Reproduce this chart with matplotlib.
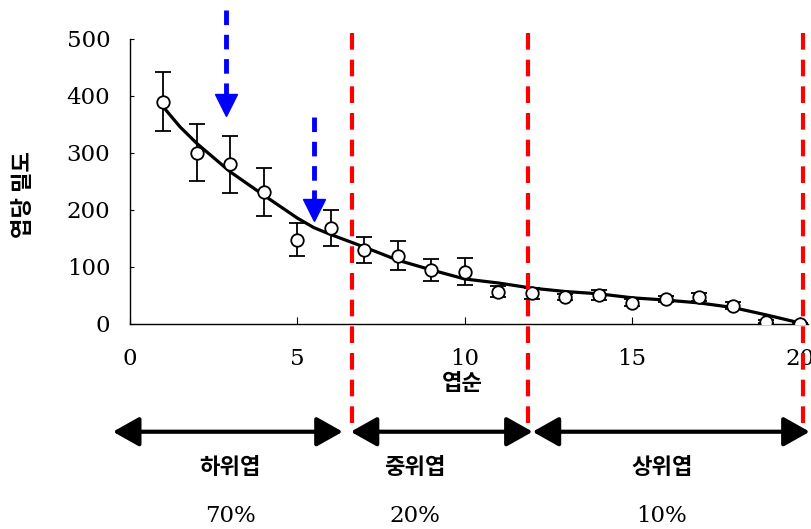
import matplotlib.pyplot as plt

# leaf position vs. density per leaf
leaf_pos = [1, 2, 3, 4, 5, 6, 7, 8, 9, 10, 11, 12, 13, 14, 15, 16, 17, 18, 19, 20]
density = [390, 300, 280, 232, 148, 168, 130, 120, 95, 92, 57, 54, 47, 51, 37, 44, 48, 32, 4, 0]
density_err = [52, 50, 50, 42, 29, 32, 23, 25, 19, 23, 9, 10, 5, 9, 6, 6, 7, 6, 3, 2]

# fitted trend line
fit_x = [1, 1.5, 2, 3, 4, 5, 5.5, 6, 7, 8, 9, 10, 11, 12, 13, 14, 15, 16, 17, 18, 19, 20]
fit_y = [381, 346, 317, 267, 226, 186, 169, 157, 135, 112, 95, 79, 72, 63, 57, 53, 46, 42, 37, 29, 16, 2]

# boundaries between leaf groups
bounds = [6.64, 11.88, 20.11]
# blue markers (leaf position)
marks = [2.88, 5.5]
mark_top = [551, 363]
mark_tip = [367, 182]

groups = ['하위엽', '중위엽', '상위엽']
shares = ['70%', '20%', '10%']
group_span = [(-0.5, 6.36), (6.6, 12.03), (12.03, 20.3)]
group_text_x = [230, 415, 662]

KR = ['Noto Sans CJK KR', 'DejaVu Sans']
NUM = 'DejaVu Serif'

fig = plt.figure(figsize=(8.11, 5.29), dpi=100)
W, H = 811, 529
ax = fig.add_axes([129.7 / W, 1 - 324 / H, (808 - 129.7) / W, (324 - 39) / H])
ax.set_xlim(0, 20.25)
ax.set_ylim(0, 500)
for s in ['top', 'right']:
    ax.spines[s].set_visible(False)
ax.spines['left'].set_linewidth(1.0)
ax.spines['bottom'].set_linewidth(1.0)
ax.set_xticks([0, 5, 10, 15, 20])
ax.set_yticks([0, 100, 200, 300, 400, 500])
ax.tick_params(axis='x', direction='in', length=5, pad=17, labelsize=16.5)
ax.tick_params(axis='y', direction='in', length=3, pad=14, labelsize=16.5)
for lab in ax.get_xticklabels() + ax.get_yticklabels():
    lab.set_fontfamily(NUM)

ax.plot(fit_x, fit_y, color='black', lw=2.3, zorder=3)
ax.errorbar(leaf_pos, density, yerr=density_err, fmt='o', ms=9, mfc='white',
            mec='black', mew=1.3, ecolor='black', elinewidth=1.3, capsize=6,
            capthick=1.3, zorder=4)

# red group boundaries
for b in bounds:
    ax.plot([b, b], [510, -186], color='#ff0000', lw=3, ls=(0, (4, 2.4)),
            clip_on=False, zorder=5)

# blue arrows
for x, top, tip in zip(marks, mark_top, mark_tip):
    base = tip + 35
    ax.plot([x, x], [top, base], color='#0000ff', lw=3.5, ls=(0, (3, 2)),
            clip_on=False, zorder=5)
    ax.plot([x], [tip + 18], marker='v', ms=16, color='#0000ff', mec='#0000ff',
            clip_on=False, zorder=5)

# group arrows
for x0, x1 in group_span:
    ax.annotate('', xy=(x1, -189), xytext=(x0, -189), xycoords='data',
                arrowprops=dict(arrowstyle='<|-|>,head_length=0.8,head_width=0.45',
                                lw=3, color='black', shrinkA=0, shrinkB=0,
                                mutation_scale=20),
                annotation_clip=False)

ax.set_ylabel('엽당 밀도', family=KR, fontsize=16, fontweight='bold')
ax.yaxis.set_label_coords(-0.14, 0.455)
fig.text(462 / W, 1 - 383 / H, '엽순', family=KR, fontsize=16, fontweight='bold',
         ha='center', va='center')
for tx, g, s in zip(group_text_x, groups, shares):
    fig.text(tx / W, 1 - 467 / H, g, family=KR, fontsize=16, fontweight='bold',
             ha='center', va='center')
    fig.text(tx / W, 1 - 516 / H, s, family=NUM, fontsize=16.5,
             ha='center', va='center')

fig.savefig('out.png', dpi=100)
